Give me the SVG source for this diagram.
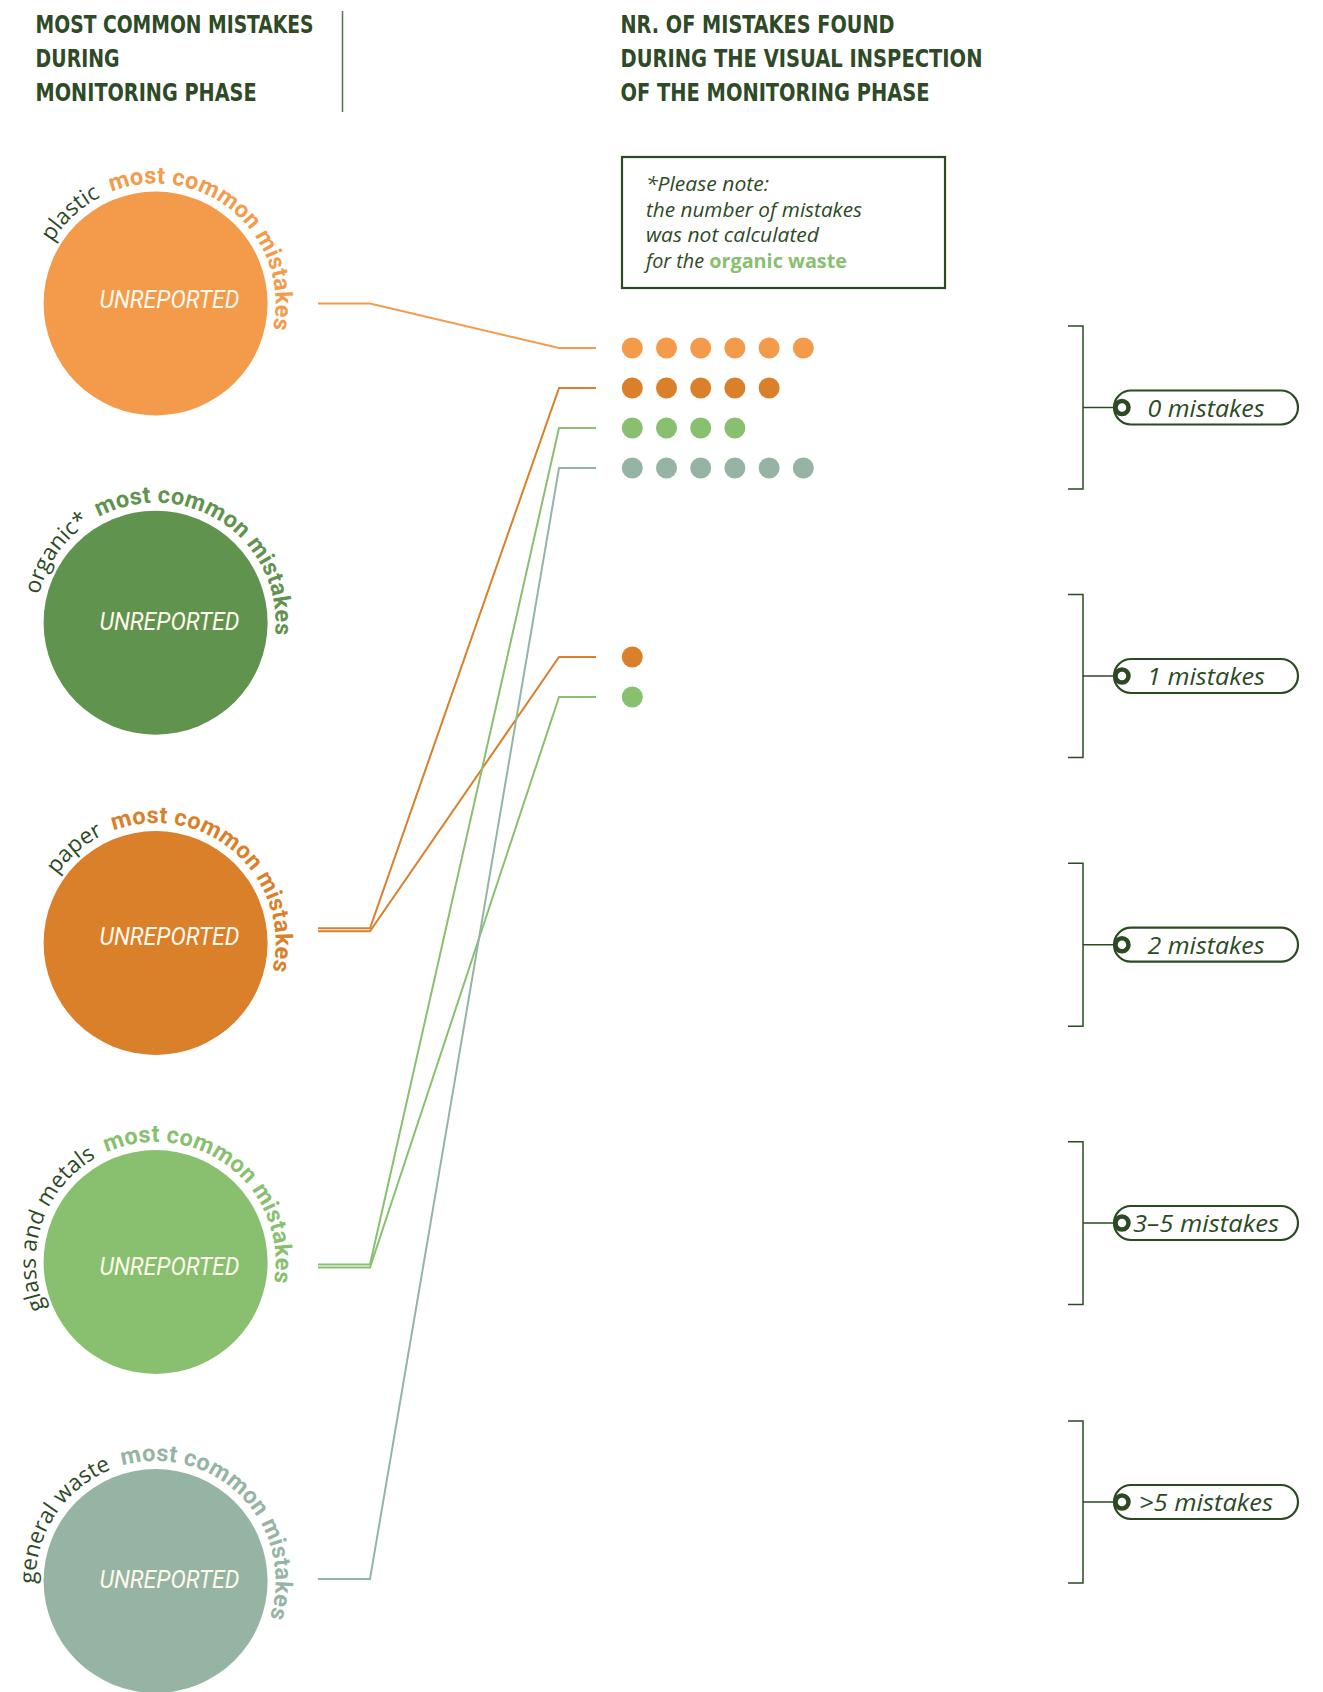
<svg xmlns="http://www.w3.org/2000/svg" width="1323" height="1692" viewBox="0 0 1323 1692">
<defs>
<style>
.hdr{font-family:"DejaVu Sans Condensed","Liberation Sans Narrow","Liberation Sans",sans-serif;font-weight:bold;font-size:25.5px;fill:#2E4A26}
.note{font-family:"Open Sans","Noto Sans",sans-serif;font-style:italic;font-size:19.5px;fill:#2E4A26}
.unrep{font-family:"Roboto","Noto Sans",sans-serif;font-style:italic;font-weight:normal;font-size:25px;fill:#FFF9EC;text-anchor:middle}
.arcmain{font-family:"Roboto","Open Sans",sans-serif;font-weight:bold;font-size:23.5px;letter-spacing:0.4px}
.arclbl{font-family:"Open Sans","Noto Sans",sans-serif;font-weight:500;font-size:22.5px;fill:#2B4A24;text-anchor:end}
.leg{font-family:"Open Sans","Noto Sans",sans-serif;font-style:italic;font-size:23.5px;fill:#2B4A24;text-anchor:middle}
.brk{fill:none;stroke:#2B4A24;stroke-width:1.5}
.pill{fill:#fff;stroke:#2B4A24;stroke-width:2.2}
.ring{fill:#fff;stroke:#2B4A24;stroke-width:4.5}
.c1{fill:#F39B4A}.c2{fill:#5F934E}.c3{fill:#DA7F2A}.c4{fill:#88C070}.c5{fill:#95B4A4}
</style>
<path id="arc1" d="M63.67 380.63 A120 120 0 1 1 176.44 421.68"/>
<path id="arc2" d="M63.67 699.83 A120 120 0 1 1 176.44 740.88"/>
<path id="arc3" d="M63.67 1020.13 A120 120 0 1 1 176.44 1061.18"/>
<path id="arc4" d="M63.67 1339.13 A120 120 0 1 1 176.44 1380.18"/>
<path id="arc5" d="M63.67 1658.13 A120 120 0 1 1 176.44 1699.18"/>
</defs>
<rect width="1323" height="1692" fill="#fff"/>

<g id="header-left">
<text class="hdr" x="35.6" y="33.3" textLength="278" lengthAdjust="spacingAndGlyphs">MOST COMMON MISTAKES</text>
<text class="hdr" x="35.6" y="67" textLength="84" lengthAdjust="spacingAndGlyphs">DURING</text>
<text class="hdr" x="35.6" y="100.5" textLength="221" lengthAdjust="spacingAndGlyphs">MONITORING PHASE</text>
</g>
<line x1="342.5" y1="11" x2="342.5" y2="112" stroke="#5A6E55" stroke-width="1.5"/>
<g id="header-right">
<text class="hdr" x="620.5" y="33.3" textLength="274" lengthAdjust="spacingAndGlyphs">NR. OF MISTAKES FOUND</text>
<text class="hdr" x="620.5" y="67" textLength="362" lengthAdjust="spacingAndGlyphs">DURING THE VISUAL INSPECTION</text>
<text class="hdr" x="620.5" y="100.5" textLength="309" lengthAdjust="spacingAndGlyphs">OF THE MONITORING PHASE</text>
</g>

<g id="note">
<rect x="622" y="157" width="323" height="131" fill="none" stroke="#2B4A24" stroke-width="2.2"/>
<text class="note" x="646" y="191" textLength="123" lengthAdjust="spacingAndGlyphs">*Please note:</text>
<text class="note" x="646" y="216.5" textLength="216" lengthAdjust="spacingAndGlyphs">the number of mistakes</text>
<text class="note" x="646" y="242" textLength="173" lengthAdjust="spacingAndGlyphs">was not calculated</text>
<text class="note" x="646" y="267.5" textLength="201" lengthAdjust="spacingAndGlyphs">for the <tspan style="font-style:normal;font-weight:bold;fill:#88C070">organic waste</tspan></text>
</g>

<g id="node-plastic">
<circle class="c1" cx="155.6" cy="303.5" r="112"/>
<text class="unrep" x="169.4" y="308" textLength="140" lengthAdjust="spacingAndGlyphs">UNREPORTED</text>
<text class="arclbl"><textPath href="#arc1" startOffset="215">plastic</textPath></text>
<text class="arcmain" fill="#F39B4A"><textPath href="#arc1" startOffset="226.8" textLength="260" lengthAdjust="spacing">most common mistakes</textPath></text>
</g>
<g id="node-organic">
<circle class="c2" cx="155.6" cy="622.7" r="112"/>
<text class="unrep" x="169.4" y="629.5" textLength="140" lengthAdjust="spacingAndGlyphs">UNREPORTED</text>
<text class="arclbl"><textPath href="#arc2" startOffset="202">organic*</textPath></text>
<text class="arcmain" fill="#5F934E"><textPath href="#arc2" startOffset="213" textLength="260" lengthAdjust="spacing">most common mistakes</textPath></text>
</g>
<g id="node-paper">
<circle class="c3" cx="155.6" cy="943" r="112"/>
<text class="unrep" x="169.4" y="944.5" textLength="140" lengthAdjust="spacingAndGlyphs">UNREPORTED</text>
<text class="arclbl"><textPath href="#arc3" startOffset="218">paper</textPath></text>
<text class="arcmain" fill="#DA7F2A"><textPath href="#arc3" startOffset="229" textLength="260" lengthAdjust="spacing">most common mistakes</textPath></text>
</g>
<g id="node-glass">
<circle class="c4" cx="155.6" cy="1262" r="112"/>
<text class="unrep" x="169.4" y="1275" textLength="140" lengthAdjust="spacingAndGlyphs">UNREPORTED</text>
<text class="arclbl"><textPath href="#arc4" startOffset="210">glass and metals</textPath></text>
<text class="arcmain" fill="#88C070"><textPath href="#arc4" startOffset="221.4" textLength="260" lengthAdjust="spacing">most common mistakes</textPath></text>
</g>
<g id="node-general">
<circle class="c5" cx="155.6" cy="1581" r="112"/>
<text class="unrep" x="169.4" y="1588" textLength="140" lengthAdjust="spacingAndGlyphs">UNREPORTED</text>
<text class="arclbl"><textPath href="#arc5" startOffset="227">general waste</textPath></text>
<text class="arcmain" fill="#95B4A4"><textPath href="#arc5" startOffset="238.3" textLength="260" lengthAdjust="spacing">most common mistakes</textPath></text>
</g>

<g id="connectors" fill="none" stroke-width="2" stroke-linejoin="miter">
<polyline stroke="#F39B4A" points="318,303.5 370,303.5 559,348 596,348"/>
<polyline stroke="#DA7F2A" points="318,928.3 370,928.3 559,388 596,388"/>
<polyline stroke="#DA7F2A" points="318,931.3 370,931.3 559,657 596,657"/>
<polyline stroke="#88C070" points="318,1264.5 370,1264.5 559,428 596,428"/>
<polyline stroke="#88C070" points="318,1267.5 370,1267.5 559,697 596,697"/>
<polyline stroke="#95B4A4" points="318,1579 370,1579 559,468 596,468"/>
</g>

<g id="dots">
<g class="c1"><circle cx="632.3" cy="348" r="10.5"/><circle cx="666.5" cy="348" r="10.5"/><circle cx="700.7" cy="348" r="10.5"/><circle cx="734.9" cy="348" r="10.5"/><circle cx="769.1" cy="348" r="10.5"/><circle cx="803.3" cy="348" r="10.5"/></g>
<g class="c3"><circle cx="632.3" cy="388" r="10.5"/><circle cx="666.5" cy="388" r="10.5"/><circle cx="700.7" cy="388" r="10.5"/><circle cx="734.9" cy="388" r="10.5"/><circle cx="769.1" cy="388" r="10.5"/></g>
<g class="c4"><circle cx="632.3" cy="428" r="10.5"/><circle cx="666.5" cy="428" r="10.5"/><circle cx="700.7" cy="428" r="10.5"/><circle cx="734.9" cy="428" r="10.5"/></g>
<g class="c5"><circle cx="632.3" cy="468" r="10.5"/><circle cx="666.5" cy="468" r="10.5"/><circle cx="700.7" cy="468" r="10.5"/><circle cx="734.9" cy="468" r="10.5"/><circle cx="769.1" cy="468" r="10.5"/><circle cx="803.3" cy="468" r="10.5"/></g>
<circle class="c3" cx="632.3" cy="657" r="10.5"/>
<circle class="c4" cx="632.3" cy="697" r="10.5"/>
</g>

<g id="legend-0">
<path class="brk" d="M1068 326 H1083 V489 H1068 M1083 407.5 H1116"/>
<rect class="pill" x="1114" y="390.5" width="184" height="34" rx="17"/>
<circle class="ring" cx="1122" cy="407.5" r="6.5"/>
<text class="leg" x="1206" y="416.5" textLength="117" lengthAdjust="spacingAndGlyphs">0 mistakes</text>
</g>
<g id="legend-1">
<path class="brk" d="M1068 594.6 H1083 V757.5 H1068 M1083 676 H1116"/>
<rect class="pill" x="1114" y="659" width="184" height="34" rx="17"/>
<circle class="ring" cx="1122" cy="676" r="6.5"/>
<text class="leg" x="1206" y="685" textLength="118" lengthAdjust="spacingAndGlyphs">1 mistakes</text>
</g>
<g id="legend-2">
<path class="brk" d="M1068 863.2 H1083 V1026.2 H1068 M1083 944.7 H1116"/>
<rect class="pill" x="1114" y="927.7" width="184" height="34" rx="17"/>
<circle class="ring" cx="1122" cy="944.7" r="6.5"/>
<text class="leg" x="1206" y="953.7" textLength="117" lengthAdjust="spacingAndGlyphs">2 mistakes</text>
</g>
<g id="legend-3">
<path class="brk" d="M1068 1141.7 H1083 V1304.6 H1068 M1083 1223 H1116"/>
<rect class="pill" x="1114" y="1206" width="184" height="34" rx="17"/>
<circle class="ring" cx="1122" cy="1223" r="6.5"/>
<text class="leg" x="1206" y="1232" textLength="146" lengthAdjust="spacingAndGlyphs">3–5 mistakes</text>
</g>
<g id="legend-4">
<path class="brk" d="M1068 1421 H1083 V1583 H1068 M1083 1502 H1116"/>
<rect class="pill" x="1114" y="1485" width="184" height="34" rx="17"/>
<circle class="ring" cx="1122" cy="1502" r="6.5"/>
<text class="leg" x="1206" y="1511" textLength="134" lengthAdjust="spacingAndGlyphs">&gt;5 mistakes</text>
</g>
</svg>
